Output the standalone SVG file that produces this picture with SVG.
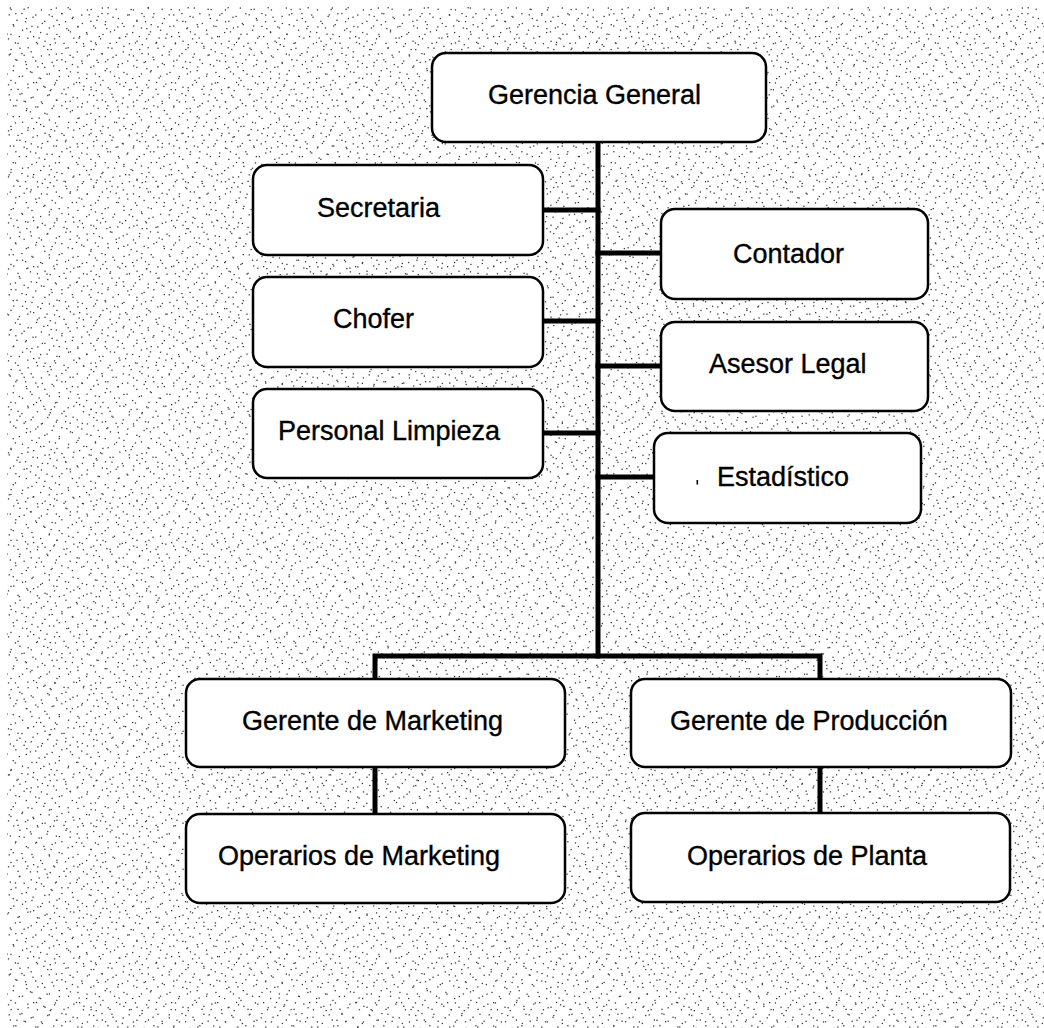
<svg xmlns="http://www.w3.org/2000/svg" width="1044" height="1028" viewBox="0 0 1044 1028">
  <style>
    .box { fill: #ffffff; stroke: #000000; stroke-width: 2.5; }
    .lbl { font-family: "Liberation Sans", Arial, sans-serif; font-size: 27px; fill: #000000; stroke: #000000; stroke-width: 0.35; }
    .wire { fill: none; stroke: #000000; stroke-width: 5; stroke-linecap: square; stroke-linejoin: miter; }
    .dot { fill: #3a3a3a; }
  </style>
  <defs>
    <!-- two stipple tiles of different sizes, layered so the dot texture does not look regular -->
    <pattern id="stippleA" x="0" y="0" width="40" height="40" patternUnits="userSpaceOnUse">
      <g class="dot">
        <rect x="3.2" y="5.7" width="1.3" height="1.3"/><rect x="14.8" y="2.3" width="1.3" height="1.3"/><rect x="27.5" y="7.1" width="1.3" height="1.3"/>
        <rect x="35.9" y="1.8" width="1.3" height="1.3"/><rect x="8.6" y="14.2" width="1.3" height="1.3"/><rect x="21.3" y="12.9" width="1.3" height="1.3"/>
        <rect x="32.4" y="16.6" width="1.3" height="1.3"/><rect x="1.7" y="22.8" width="1.3" height="1.3"/><rect x="13.1" y="25.4" width="1.3" height="1.3"/>
        <rect x="24.9" y="21.1" width="1.3" height="1.3"/><rect x="37.2" y="26.3" width="1.3" height="1.3"/><rect x="6.4" y="33.5" width="1.3" height="1.3"/>
        <rect x="18.7" y="35.9" width="1.3" height="1.3"/><rect x="29.8" y="31.2" width="1.3" height="1.3"/><rect x="38.5" y="37.4" width="1.3" height="1.3"/>
        <rect x="10.5" y="8.9" width="1.3" height="1.3"/><rect x="26.2" y="28.0" width="1.3" height="1.3"/><rect x="16.3" y="19.6" width="1.3" height="1.3"/>
      </g>
    </pattern>
    <pattern id="stippleB" x="0" y="0" width="46" height="46" patternUnits="userSpaceOnUse">
      <g class="dot">
        <rect x="1.1" y="2.9" width="1.3" height="1.3"/><rect x="9.7" y="7.4" width="1.3" height="1.3"/><rect x="19.3" y="1.6" width="1.3" height="1.3"/>
        <rect x="30.6" y="5.2" width="1.3" height="1.3"/><rect x="40.8" y="9.3" width="1.3" height="1.3"/><rect x="5.5" y="15.8" width="1.3" height="1.3"/>
        <rect x="15.2" y="13.1" width="1.3" height="1.3"/><rect x="25.7" y="17.9" width="1.3" height="1.3"/><rect x="35.1" y="14.4" width="1.3" height="1.3"/>
        <rect x="44.2" y="20.7" width="1.3" height="1.3"/><rect x="2.8" y="27.3" width="1.3" height="1.3"/><rect x="12.6" y="24.0" width="1.3" height="1.3"/>
        <rect x="21.9" y="29.6" width="1.3" height="1.3"/><rect x="31.3" y="25.8" width="1.3" height="1.3"/><rect x="40.0" y="31.9" width="1.3" height="1.3"/>
        <rect x="7.9" y="38.2" width="1.3" height="1.3"/><rect x="17.4" y="42.7" width="1.3" height="1.3"/><rect x="27.2" y="37.5" width="1.3" height="1.3"/>
        <rect x="36.8" y="43.1" width="1.3" height="1.3"/><rect x="44.4" y="40.6" width="1.3" height="1.3"/><rect x="10.3" y="33.8" width="1.3" height="1.3"/>
        <rect x="23.5" y="8.6" width="1.3" height="1.3"/><rect x="33.0" y="36.0" width="1.3" height="1.3"/><rect x="3.6" y="44.0" width="1.3" height="1.3"/>
      </g>
    </pattern>
  </defs>

  <!-- page -->
  <rect x="0" y="0" width="1044" height="1028" fill="#ffffff"/>
  <rect x="7" y="7" width="1037" height="1021" fill="url(#stippleA)"/>
  <rect x="7" y="7" width="1037" height="1021" fill="url(#stippleB)"/>

  <!-- connectors -->
  <g id="connectors" class="wire">
    <path d="M598,142 V656"/>
    <path d="M543,210 H598"/>
    <path d="M543,321 H598"/>
    <path d="M543,433 H598"/>
    <path d="M598,253 H661"/>
    <path d="M598,366 H661"/>
    <path d="M598,477 H654"/>
    <path d="M375,679 V656 H820 V679"/>
    <path d="M375,767 V814"/>
    <path d="M820,767 V813"/>
  </g>

  <!-- nodes -->
  <g id="gerencia-general">
    <rect class="box" x="432" y="53" width="334" height="89" rx="14"/>
    <text class="lbl" x="488" y="104">Gerencia General</text>
  </g>
  <g id="secretaria">
    <rect class="box" x="253" y="165" width="290" height="90" rx="14"/>
    <text class="lbl" x="317" y="217">Secretaria</text>
  </g>
  <g id="chofer">
    <rect class="box" x="253" y="277" width="290" height="90" rx="14"/>
    <text class="lbl" x="333" y="328">Chofer</text>
  </g>
  <g id="personal-limpieza">
    <rect class="box" x="253" y="389" width="290" height="89" rx="14"/>
    <text class="lbl" x="278" y="440">Personal Limpieza</text>
  </g>
  <g id="contador">
    <rect class="box" x="661" y="209" width="267" height="90" rx="14"/>
    <text class="lbl" x="733" y="263">Contador</text>
  </g>
  <g id="asesor-legal">
    <rect class="box" x="661" y="322" width="267" height="89" rx="14"/>
    <text class="lbl" x="709" y="373">Asesor Legal</text>
  </g>
  <g id="estadistico">
    <rect class="box" x="654" y="433" width="267" height="90" rx="14"/>
    <rect x="696.5" y="480" width="1.6" height="4.5" fill="#000000"/>
    <text class="lbl" x="717" y="486">Estadístico</text>
  </g>
  <g id="gerente-marketing">
    <rect class="box" x="186" y="679" width="379" height="88" rx="14"/>
    <text class="lbl" x="242" y="730">Gerente de Marketing</text>
  </g>
  <g id="gerente-produccion">
    <rect class="box" x="631" y="679" width="380" height="88" rx="14"/>
    <text class="lbl" x="670" y="730">Gerente de Producción</text>
  </g>
  <g id="operarios-marketing">
    <rect class="box" x="186" y="814" width="379" height="89" rx="14"/>
    <text class="lbl" x="218" y="865">Operarios de Marketing</text>
  </g>
  <g id="operarios-planta">
    <rect class="box" x="631" y="813" width="379" height="89" rx="14"/>
    <text class="lbl" x="687" y="865">Operarios de Planta</text>
  </g>
</svg>
